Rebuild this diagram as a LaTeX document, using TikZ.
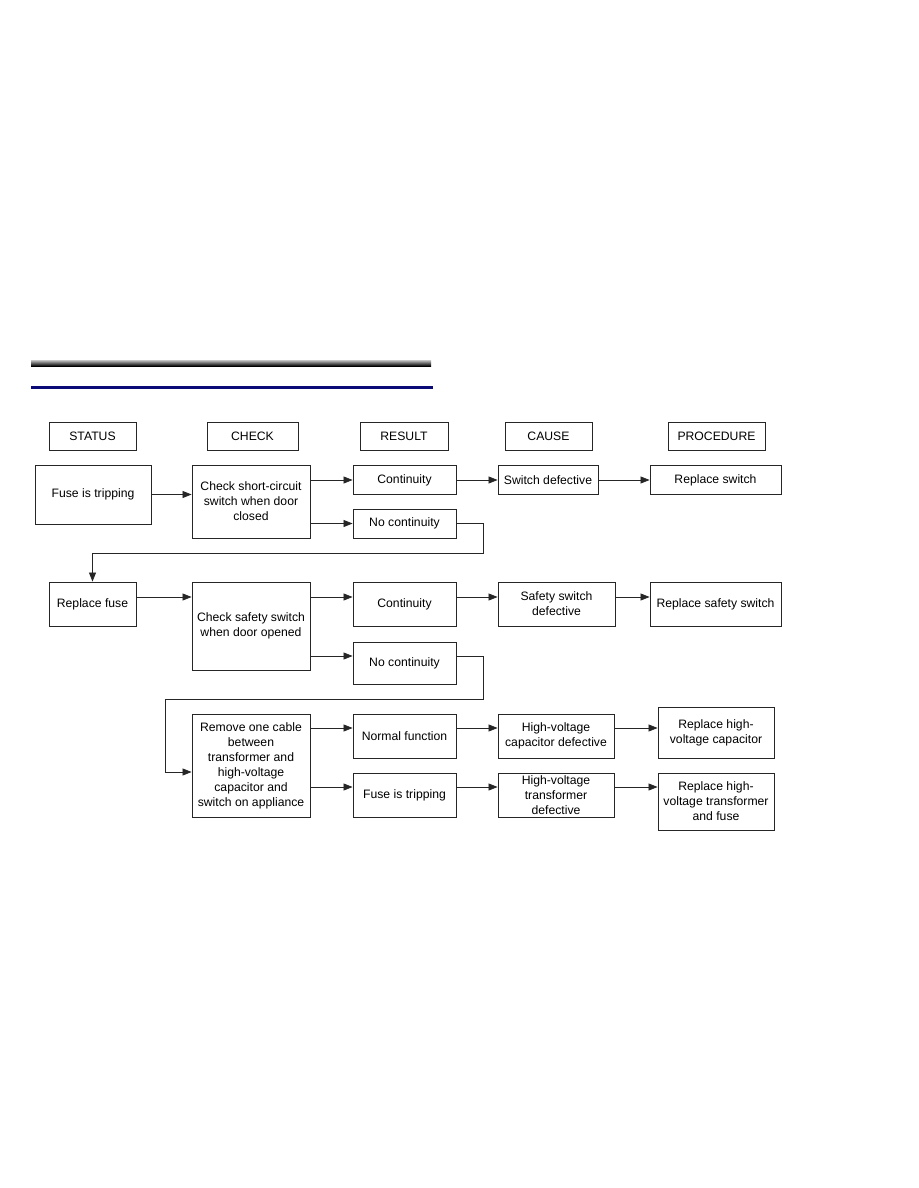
\documentclass[tikz,border=0pt]{standalone}
\usepackage{fontspec}
\setmainfont{Liberation Sans}
\usetikzlibrary{arrows.meta,calc}
\definecolor{navyrule}{RGB}{10,10,120}
\tikzset{
  box/.style={draw=black!85, line width=0.9pt, fill=white, inner sep=0pt, align=center,
              font=\fontsize{12.2}{15}\selectfont},
  hdr/.style={box, minimum height=28pt},
  arr/.style={draw=black!85, line width=0.8pt, -{Triangle[length=9pt,width=7pt]}},
}
\begin{document}
\begin{tikzpicture}[x=1pt,y=-1pt]
\useasboundingbox (0,0) rectangle (918,1188);
\fill[white] (0,0) rectangle (918,1188);
% header rules
\shade[top color=gray!45, bottom color=black] (31,360) rectangle (431,366);
\fill[navyrule] (31,386) rectangle (433,389);
% column headers
\node[hdr, minimum width=87pt] (hstatus) at (92.5,436) {STATUS};
\node[hdr, minimum width=91pt] (hcheck) at (252.5,436) {CHECK};
\node[hdr, minimum width=88pt] (hresult) at (404,436) {RESULT};
\node[hdr, minimum width=87pt] (hcause) at (548.5,436) {CAUSE};
\node[hdr, minimum width=97pt] (hproc) at (716.5,436) {PROCEDURE};
% row 1
\node[box, minimum width=116pt, minimum height=59pt] (fuse1) at (93,494.5) {Fuse is tripping};
\node[box, minimum width=118pt, minimum height=73pt] (check1) at (251,501.5) {Check short-circuit\\switch when door\\closed};
\node[box, minimum width=103pt, minimum height=29pt] (cont1) at (404.5,480) {Continuity};
\node[box, minimum width=103pt, minimum height=29pt] (nocont1) at (404.5,523.5) {No continuity};
\node[box, minimum width=100pt, minimum height=29pt] (swdef) at (548,480) {Switch defective};
\node[box, minimum width=131pt, minimum height=29pt] (repsw) at (715.5,480) {Replace switch};
% row 2
\node[box, minimum width=87pt, minimum height=44pt] (fuse2) at (92.5,604) {Replace fuse};
\node[box, minimum width=118pt, minimum height=88pt] (check2) at (251,626) {Check safety switch\\when door opened};
\node[box, minimum width=103pt, minimum height=44pt] (cont2) at (404.5,604) {Continuity};
\node[box, minimum width=103pt, minimum height=42pt] (nocont2) at (404.5,663) {No continuity};
\node[box, minimum width=117pt, minimum height=44pt] (safdef) at (556.5,604) {Safety switch\\defective};
\node[box, minimum width=131pt, minimum height=44pt] (repsaf) at (715.5,604) {Replace safety switch};
% row 3
\node[box, minimum width=118pt, minimum height=103pt] (remove) at (251,765.5) {Remove one cable\\between\\transformer and\\high-voltage\\capacitor and\\switch on appliance};
\node[box, minimum width=103pt, minimum height=44pt] (normal) at (404.5,736) {Normal function};
\node[box, minimum width=103pt, minimum height=44pt] (fuse3) at (404.5,795) {Fuse is tripping};
\node[box, minimum width=116pt, minimum height=44pt] (hvcap) at (556,736) {High-voltage\\capacitor defective};
\node[box, minimum width=116pt, minimum height=51pt] (rephvcap) at (716,732.5) {Replace high-\\voltage capacitor};
\node[box, minimum width=116pt, minimum height=44pt] (hvtrans) at (556,795) {High-voltage\\transformer\\defective};
\node[box, minimum width=116pt, minimum height=57pt] (rephvt) at (716,801.5) {Replace high-\\voltage transformer\\and fuse};
% helper coordinates
\coordinate (k1) at (483,553);
\coordinate (k2) at (483,699);
\coordinate (k3) at (165,699);
\coordinate (r2) at (0,597);
\coordinate (r2b) at (0,656);
\coordinate (r3a) at (0,728);
\coordinate (r3b) at (0,787);
\coordinate (r3c) at (0,772);
% row 1 connectors
\draw[arr] (fuse1.east) -- (fuse1.east -| check1.west);
\draw[arr] (check1.east |- cont1.west) -- (cont1.west);
\draw[arr] (check1.east |- nocont1.west) -- (nocont1.west);
\draw[arr] (cont1.east) -- (swdef.west);
\draw[arr] (swdef.east) -- (repsw.west);
\draw[arr] (nocont1.east) -| (k1) -| (fuse2.north);
% row 2 connectors
\draw[arr] (fuse2.east |- r2) -- (check2.west |- r2);
\draw[arr] (check2.east |- r2) -- (cont2.west |- r2);
\draw[arr] (check2.east |- r2b) -- (nocont2.west |- r2b);
\draw[arr] (cont2.east |- r2) -- (safdef.west |- r2);
\draw[arr] (safdef.east |- r2) -- (repsaf.west |- r2);
\draw[arr] (nocont2.east |- r2b) -| (k2) -- (k3) |- (remove.west |- r3c);
% row 3 connectors
\draw[arr] (remove.east |- r3a) -- (normal.west |- r3a);
\draw[arr] (remove.east |- r3b) -- (fuse3.west |- r3b);
\draw[arr] (normal.east |- r3a) -- (hvcap.west |- r3a);
\draw[arr] (hvcap.east |- r3a) -- (rephvcap.west |- r3a);
\draw[arr] (fuse3.east |- r3b) -- (hvtrans.west |- r3b);
\draw[arr] (hvtrans.east |- r3b) -- (rephvt.west |- r3b);
\end{tikzpicture}
\end{document}
